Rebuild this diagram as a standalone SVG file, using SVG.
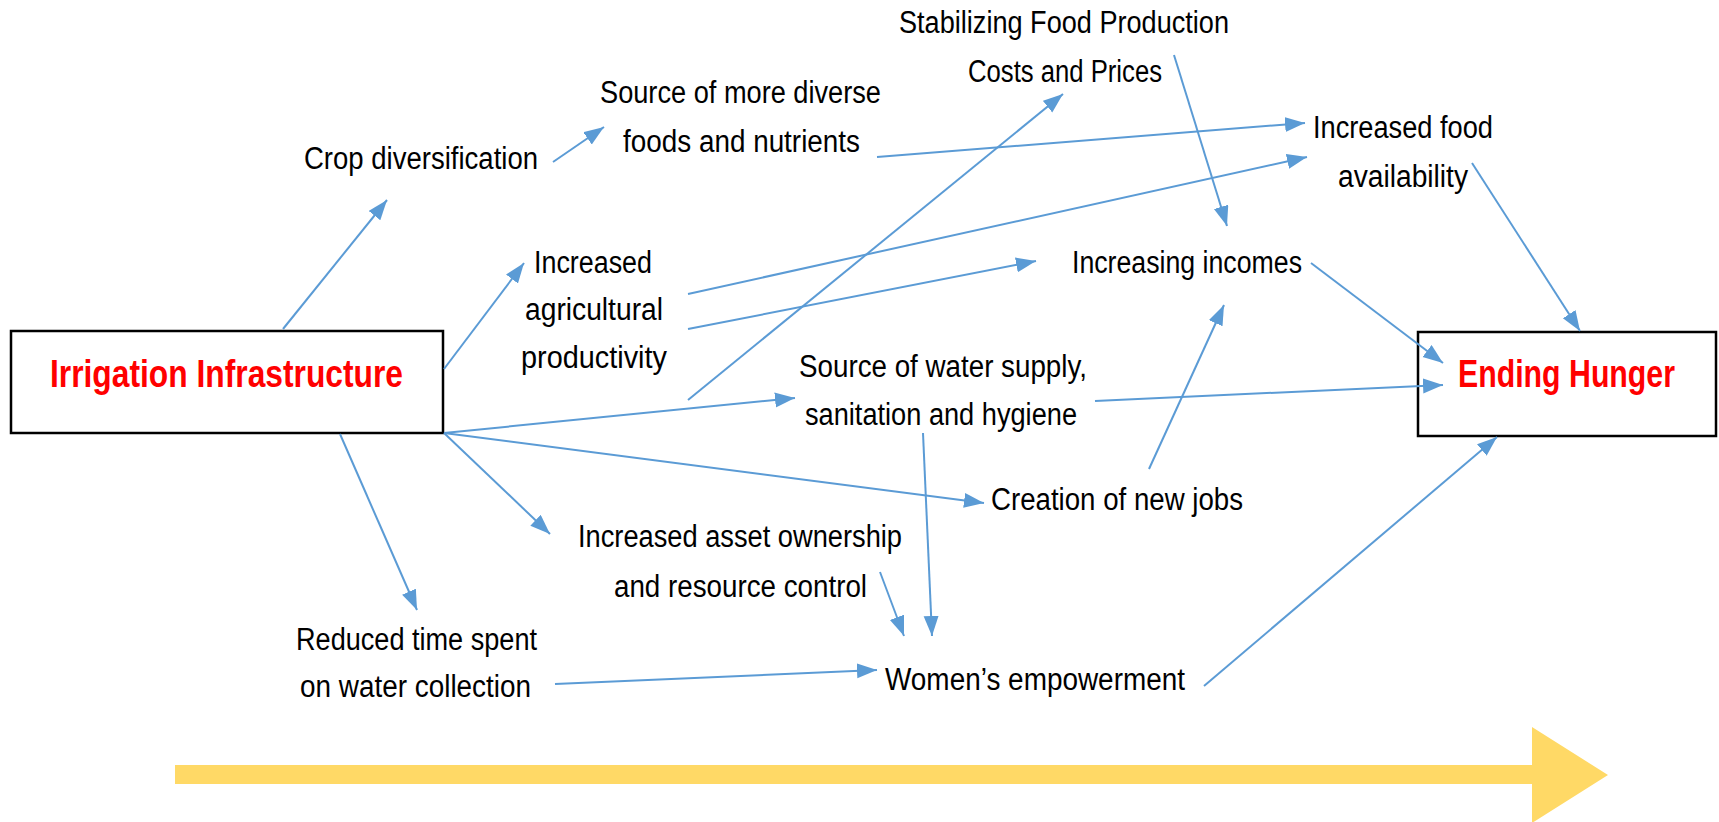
<svg xmlns="http://www.w3.org/2000/svg" width="1719" height="822" viewBox="0 0 1719 822">
<style>
.lbl{font-family:"Liberation Sans",Arial,sans-serif;font-size:31px;fill:#000}
.ttl{font-family:"Liberation Sans",Arial,sans-serif;font-size:39px;font-weight:bold;fill:#FF0000}
.box{fill:#fff;stroke:#000;stroke-width:2.5}
.con line{stroke:#5B9BD5;stroke-width:2;marker-end:url(#ah)}
</style>
<defs>
<marker id="ah" markerUnits="userSpaceOnUse" markerWidth="22" markerHeight="16" refX="20" refY="7.5" orient="auto">
<path d="M0,0 L20,7.5 L0,15 z" fill="#5B9BD5"/>
</marker>
</defs>
<rect width="1719" height="822" fill="#fff"/>
<polygon id="progress-arrow" points="175,765 1532,765 1532,727 1608,775 1532,823 1532,784 175,784" fill="#FFD966"/>
<g id="irrigation-infrastructure">
<rect class="box" x="11" y="331" width="432" height="102"/>
<text class="ttl" x="50" y="387" textLength="353" lengthAdjust="spacingAndGlyphs">Irrigation Infrastructure</text>
</g>
<g id="ending-hunger">
<rect class="box" x="1418" y="332" width="298" height="104"/>
<text class="ttl" x="1458" y="387" textLength="217" lengthAdjust="spacingAndGlyphs">Ending Hunger</text>
</g>
<g id="connectors" class="con">
<line x1="283" y1="329" x2="387" y2="200"/>
<line x1="553" y1="162" x2="604" y2="127"/>
<line x1="444" y1="369" x2="524" y2="263"/>
<line x1="877" y1="157" x2="1305" y2="123"/>
<line x1="688" y1="400" x2="1063" y2="94"/>
<line x1="688" y1="294" x2="1307" y2="157"/>
<line x1="688" y1="329" x2="1036" y2="261"/>
<line x1="1174" y1="55" x2="1227" y2="226"/>
<line x1="1472" y1="163" x2="1580" y2="331"/>
<line x1="1311" y1="263" x2="1443" y2="363"/>
<line x1="444" y1="433" x2="795" y2="398"/>
<line x1="444" y1="433" x2="984" y2="503"/>
<line x1="444" y1="433" x2="550" y2="534"/>
<line x1="340" y1="434" x2="417" y2="610"/>
<line x1="1095" y1="401" x2="1443" y2="385"/>
<line x1="1149" y1="469" x2="1224" y2="305"/>
<line x1="923" y1="433" x2="932" y2="636"/>
<line x1="880" y1="572" x2="904" y2="636"/>
<line x1="555" y1="684" x2="877" y2="670"/>
<line x1="1204" y1="686" x2="1497" y2="437"/>
</g>
<g id="crop-diversification">
<text class="lbl" x="304" y="169" textLength="234" lengthAdjust="spacingAndGlyphs">Crop diversification</text>
</g>
<g id="diverse-foods">
<text class="lbl" x="600" y="103" textLength="281" lengthAdjust="spacingAndGlyphs">Source of more diverse</text>
<text class="lbl" x="623" y="152" textLength="237" lengthAdjust="spacingAndGlyphs">foods and nutrients</text>
</g>
<g id="stabilizing-prices">
<text class="lbl" x="899" y="33" textLength="330" lengthAdjust="spacingAndGlyphs">Stabilizing Food Production</text>
<text class="lbl" x="968" y="82" textLength="194" lengthAdjust="spacingAndGlyphs">Costs and Prices</text>
</g>
<g id="food-availability">
<text class="lbl" x="1313" y="138" textLength="180" lengthAdjust="spacingAndGlyphs">Increased food</text>
<text class="lbl" x="1338" y="187" textLength="130" lengthAdjust="spacingAndGlyphs">availability</text>
</g>
<g id="agricultural-productivity">
<text class="lbl" x="534" y="273" textLength="118" lengthAdjust="spacingAndGlyphs">Increased</text>
<text class="lbl" x="525" y="320" textLength="138" lengthAdjust="spacingAndGlyphs">agricultural</text>
<text class="lbl" x="521" y="368" textLength="146" lengthAdjust="spacingAndGlyphs">productivity</text>
</g>
<g id="increasing-incomes">
<text class="lbl" x="1072" y="273" textLength="230" lengthAdjust="spacingAndGlyphs">Increasing incomes</text>
</g>
<g id="water-supply">
<text class="lbl" x="799" y="377" textLength="288" lengthAdjust="spacingAndGlyphs">Source of water supply,</text>
<text class="lbl" x="805" y="425" textLength="272" lengthAdjust="spacingAndGlyphs">sanitation and hygiene</text>
</g>
<g id="new-jobs">
<text class="lbl" x="991" y="510" textLength="252" lengthAdjust="spacingAndGlyphs">Creation of new jobs</text>
</g>
<g id="asset-ownership">
<text class="lbl" x="578" y="547" textLength="324" lengthAdjust="spacingAndGlyphs">Increased asset ownership</text>
<text class="lbl" x="614" y="597" textLength="253" lengthAdjust="spacingAndGlyphs">and resource control</text>
</g>
<g id="reduced-time">
<text class="lbl" x="296" y="650" textLength="241" lengthAdjust="spacingAndGlyphs">Reduced time spent</text>
<text class="lbl" x="300" y="697" textLength="231" lengthAdjust="spacingAndGlyphs">on water collection</text>
</g>
<g id="womens-empowerment">
<text class="lbl" x="885" y="690" textLength="300" lengthAdjust="spacingAndGlyphs">Women’s empowerment</text>
</g>
</svg>
